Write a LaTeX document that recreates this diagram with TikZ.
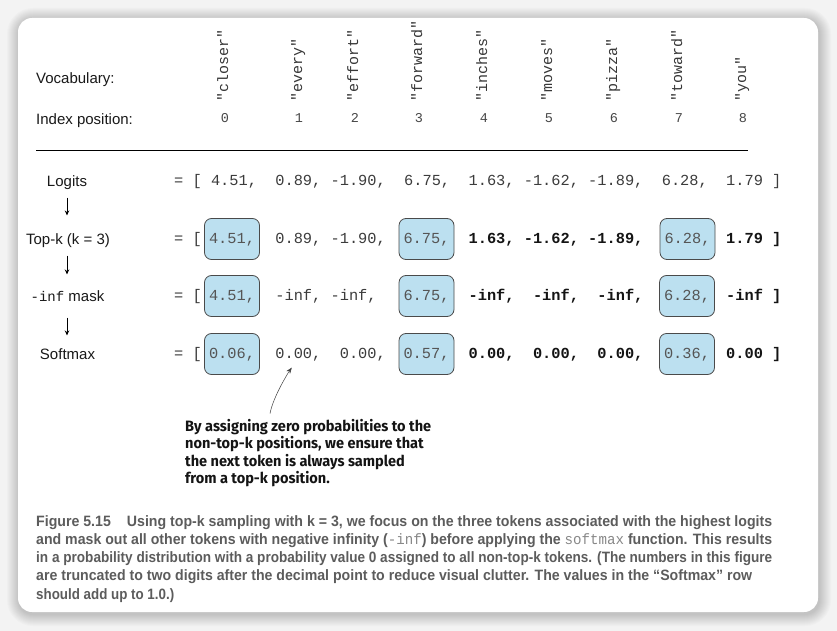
\documentclass[tikz,border=0pt]{standalone}
\usepackage{fontspec}
\usepackage{graphicx}
\setmainfont{Liberation Sans}
\newfontfamily\monof{Liberation Mono}
\newfontfamily\annf{Fira Sans}
\newfontfamily\capf{Liberation Sans}
\usetikzlibrary{arrows.meta,calc}
\definecolor{boxfill}{HTML}{BCE0F0}
\definecolor{boxline}{HTML}{4A4A4A}
\definecolor{numcol}{HTML}{3C3C3C}
\definecolor{boxtext}{HTML}{555555}
\definecolor{capcol}{HTML}{5C5C5C}
\definecolor{capmono}{HTML}{888888}
\definecolor{outer}{HTML}{F3F3F3}
\newsavebox\measbox
\newcommand\cm[1]{{\monof\mdseries\color{capmono}#1}}
\newcommand\fitto[2]{\sbox\measbox{#2}\pgfmathsetmacro\tmpsx{#1/\the\wd\measbox}\scalebox{\tmpsx}[1]{\usebox\measbox}}
\def\xo{174}
\def\pp{9.2}
\tikzset{
  lab/.style={inner sep=0pt, font=\fontsize{15pt}{18pt}\selectfont, text height=10.7pt, text depth=0pt, text=black!90},
  num/.style={inner sep=0pt, anchor=west, font=\monof\fontsize{15.33pt}{17pt}\selectfont, text height=9.3pt, text depth=0pt, text=numcol},
  bnum/.style={num, font=\monof\bfseries\fontsize{15.33pt}{17pt}\selectfont, text=black!92},
  topbox/.style={draw=boxline, fill=boxfill, line width=0.8pt, rounded corners=7pt, inner xsep=0pt, inner ysep=0pt, minimum height=41pt, minimum width=55pt, font=\monof\fontsize{15.33pt}{17pt}\selectfont, text height=9.3pt, text depth=0pt, text=boxtext},
  voc/.style={inner sep=0pt, rotate=90, anchor=west, font=\monof\fontsize{15pt}{16pt}\selectfont, text height=6.4pt, text depth=0pt, text=black!78},
  idx/.style={inner sep=0pt, font=\monof\fontsize{13.5pt}{16pt}\selectfont, text height=8pt, text depth=0pt, text=black!72},
  flow/.style={-{Stealth[length=5pt,width=4.5pt]}, line width=0.9pt, black},
  annline/.style={inner sep=0pt, anchor=base west, text=black!92},
  capline/.style={inner sep=0pt, anchor=base west, text=capcol},
  note/.style={-{Stealth[length=6pt,width=4.5pt]}, line width=0.5pt, black!75},
  annfont/.style={font=\annf\bfseries\fontsize{15pt}{17pt}\selectfont},
  capfont/.style={font=\capf\bfseries\fontsize{15pt}{18pt}\selectfont}
}
\begin{document}
\sbox\measbox{\annf\bfseries\fontsize{15pt}{17pt}\selectfont By assigning zero probabilities to the}%
\pgfmathsetmacro\annsx{246pt/\the\wd\measbox}%
\begin{tikzpicture}[x=1pt,y=-1pt]
\useasboundingbox (0,0) rectangle (837,631);
\fill[outer] (0,0) rectangle (837,631);
% shadow
\foreach \i in {1,...,12}{
  \pgfmathsetmacro\rr{14+\i}
  \fill[black, opacity=0.016, rounded corners=\rr pt] (18-\i+1,18-\i+2) rectangle (818+\i+1,612+\i+2);
}
\fill[white, rounded corners=14pt] (18,18) rectangle (818,612);

% header
\node[lab, anchor=west] (vocab) at (36,78) {Vocabulary:};
\node[lab, anchor=west] (idxlab) at (36,119) {Index position:};
\foreach \w/\x [count=\k from 0] in {closer/225,every/299,effort/355,forward/419,inches/484,moves/549,pizza/614,toward/679,you/743}{
  \node[voc] (v\k) at (\x,102) {"\w"};
  \node[idx] (i\k) at (\x,119) {\k};
}
\draw[line width=0.9pt] (36,150) -- (748,150);

% row labels
\node[lab] (llog) at (67,181) {Logits};
\node[lab] (ltop) at (68,239) {Top-k (k = 3)};
\node[lab] (lmask) at (67.5,296) {{\monof\fontsize{14pt}{16pt}\selectfont -inf} mask};
\node[lab] (lsoft) at (67.5,354) {Softmax};
\draw[flow, shorten <=11pt, shorten >=18pt] (llog.south) -- (llog.south |- ltop.north);
\draw[flow, shorten <=11pt, shorten >=16pt] (llog.south |- ltop.south) -- (llog.south |- lmask.north);
\draw[flow, shorten <=16pt, shorten >=13pt] (llog.south |- lmask.south) -- (llog.south |- lsoft.north);

% Logits row
\node[num] (le) at (\xo,181) {= [};
\node[num] (l0) at (\xo+4*\pp,181) {4.51,};
\node[num] (l1) at (\xo+11*\pp,181) {0.89,};
\node[num] (l2) at (\xo+17*\pp,181) {-1.90,};
\node[num] (l3) at (\xo+25*\pp,181) {6.75,};
\node[num] (l4) at (\xo+32*\pp,181) {1.63,};
\node[num] (l5) at (\xo+38*\pp,181) {-1.62,};
\node[num] (l6) at (\xo+45*\pp,181) {-1.89,};
\node[num] (l7) at (\xo+53*\pp,181) {6.28,};
\node[num] (l8) at (\xo+60*\pp,181) {1.79 ]};

% Top-k row
\node[num] (te) at (\xo,239) {= [};
\node[topbox] (t0) at (232,239) {4.51,};
\node[num] (t1) at (\xo+11*\pp,239) {0.89,};
\node[num] (t2) at (\xo+17*\pp,239) {-1.90,};
\node[topbox] (t3) at (426.5,239) {6.75,};
\node[bnum] (t4) at (\xo+32*\pp,239) {1.63,};
\node[bnum] (t5) at (\xo+38*\pp,239) {-1.62,};
\node[bnum] (t6) at (\xo+45*\pp,239) {-1.89,};
\node[topbox] (t7) at (687.5,239) {6.28,};
\node[bnum] (t8) at (\xo+60*\pp,239) {1.79 ]};

% mask row
\node[num] (me) at (\xo,296) {= [};
\node[topbox] (m0) at (232,296) {4.51,};
\node[num] (m1) at (\xo+11*\pp,296) {-inf,};
\node[num] (m2) at (\xo+17*\pp,296) {-inf,};
\node[topbox] (m3) at (426.5,296) {6.75,};
\node[bnum] (m4) at (\xo+32*\pp,296) {-inf,};
\node[bnum] (m5) at (\xo+39*\pp,296) {-inf,};
\node[bnum] (m6) at (\xo+46*\pp,296) {-inf,};
\node[topbox] (m7) at (687,296) {6.28,};
\node[bnum] (m8) at (\xo+60*\pp,296) {-inf ]};

% softmax row
\node[num] (se) at (\xo,354) {= [};
\node[topbox] (s0) at (232,354) {0.06,};
\node[num] (s1) at (\xo+11*\pp,354) {0.00,};
\node[num] (s2) at (\xo+18*\pp,354) {0.00,};
\node[topbox] (s3) at (426.5,354) {0.57,};
\node[bnum] (s4) at (\xo+32*\pp,354) {0.00,};
\node[bnum] (s5) at (\xo+39*\pp,354) {0.00,};
\node[bnum] (s6) at (\xo+46*\pp,354) {0.00,};
\node[topbox] (s7) at (687,354) {0.36,};
\node[bnum] (s8) at (\xo+60*\pp,354) {0.00 ]};

% annotation
\node[annline, annfont] (a1) at (185,431) {\scalebox{\annsx}[1]{By assigning zero probabilities to the}};
\node[annline, annfont] (a2) at (185,448.5) {\scalebox{\annsx}[1]{non-top-k positions, we ensure that}};
\node[annline, annfont] (a3) at (185,466) {\scalebox{\annsx}[1]{the next token is always sampled}};
\node[annline, annfont] (a4) at (185,483.5) {\scalebox{\annsx}[1]{from a top-k position.}};
\draw[note, shorten >=11pt] ([xshift=85pt,yshift=5pt]a1.north west) .. controls +(3,-17) and +(-9,12) .. (s1.south);

% caption
\node[capline, capfont] (c1) at (36,526) {\fitto{736pt}{Figure 5.15\hspace{17pt}Using top-k sampling with k = 3, we focus on the three tokens associated with the highest logits}};
\node[capline, capfont] (c2) at (36,544.3) {\fitto{736pt}{and mask out all other tokens with negative infinity (\cm{-inf}) before applying the \cm{softmax} function. This results}};
\node[capline, capfont] (c3) at (36,562.6) {\fitto{736pt}{in a probability distribution with a probability value 0 assigned to all non-top-k tokens. (The numbers in this figure}};
\node[capline, capfont] (c4) at (36,580.9) {\fitto{716pt}{are truncated to two digits after the decimal point to reduce visual clutter. The values in the “Softmax” row}};
\node[capline, capfont] (c5) at (36,599.2) {\fitto{138pt}{should add up to 1.0.)}};
\end{tikzpicture}
\end{document}
